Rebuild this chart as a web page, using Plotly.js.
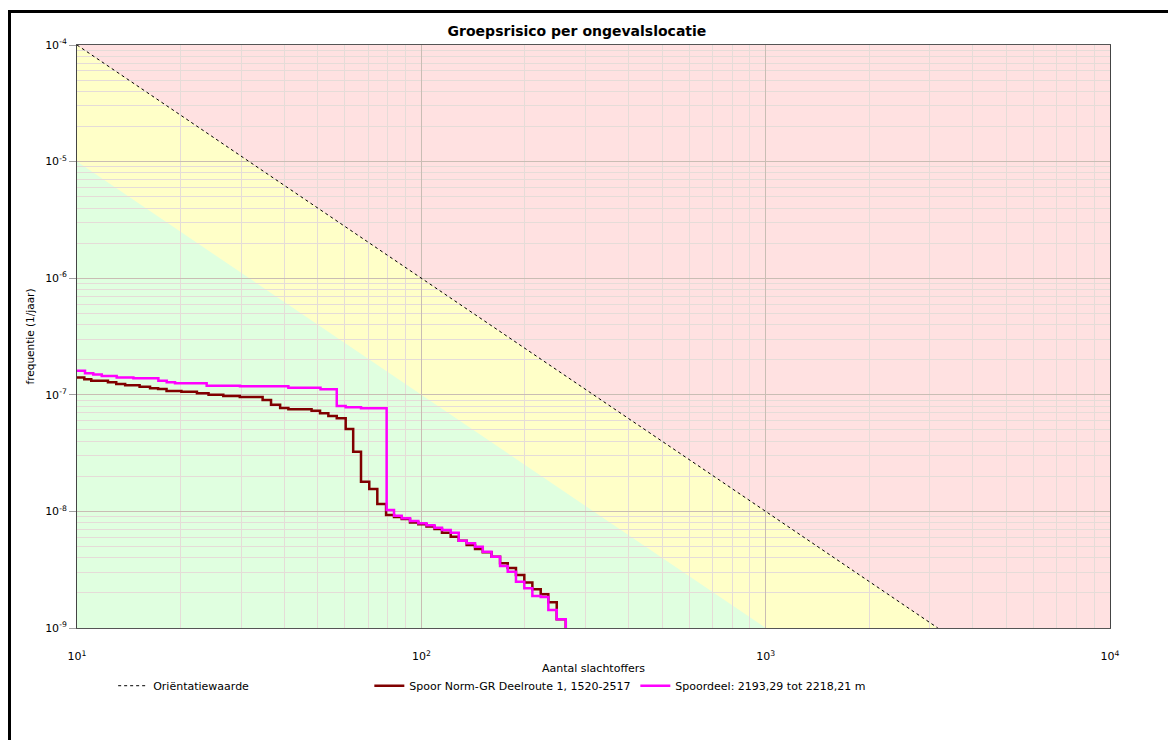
<!DOCTYPE html>
<html>
<head>
<meta charset="utf-8">
<script src="https://cdn.plot.ly/plotly-3.0.1.min.js"></script>
<style>
html,body{margin:0;padding:0;background:#fff;}
#chart{width:1168px;height:740px;position:absolute;left:0;top:0;}
#frame{position:absolute;left:8px;top:10px;width:1200px;height:800px;border-left:3px solid #000;border-top:3px solid #000;pointer-events:none;}
</style>
</head>
<body>
<div id="chart"></div>
<div id="frame"></div>
<script>
// ---- data ----
const chartTitle = 'Groepsrisico per ongevalslocatie';
const xTitle = 'Aantal slachtoffers';
const yTitle = 'frequentie (1/jaar)';

const xTickVals = [10, 100, 1000, 10000];
const xTickText = ['10<sup>1</sup>', '10<sup>2</sup>', '10<sup>3</sup>', '10<sup>4</sup>'];
const yTickVals = [1e-9, 1e-8, 1e-7, 1e-6, 1e-5, 1e-4];
const yTickText = ['10<sup>-9</sup>', '10<sup>-8</sup>', '10<sup>-7</sup>', '10<sup>-6</sup>', '10<sup>-5</sup>', '10<sup>-4</sup>'];

// Oriëntatiewaarde: F = 0.01 / N^2
const orientName = 'Oriëntatiewaarde';
const orientN = [10, 3162.28];
const orientF = [1e-4, 1e-9];

// Zone boundaries (yellow below orientatiewaarde, green below factor 10 lower)
const yellowN = [10, 3162.28, 10];
const yellowF = [1e-4, 1e-9, 1e-9];
const greenN = [10, 1000, 10];
const greenF = [1e-5, 1e-9, 1e-9];

const routeName = 'Spoor Norm-GR Deelroute 1, 1520-2517';
const routeN = [10, 10.5, 11, 12.3, 13, 13.8, 15.2, 16.3, 17.2, 18.2, 20.1, 22.3, 24.1, 26.6, 29.7,
  34.6, 36.6, 38.9, 41.1, 48.0, 50.8, 53.7, 56.8, 60.3, 63.4, 66.8, 70.6, 74.5, 79.0, 83.3,
  87.7, 92.7, 98, 103.5, 109.2, 114.8, 121.7, 128.4, 135.4, 143.2, 150.8, 159.9, 169.3, 178.2,
  188.3, 199.1, 210.1, 222.2, 233.8, 247.3, 262.7];
const routeF = [1.41e-7, 1.36e-7, 1.32e-7, 1.28e-7, 1.24e-7, 1.21e-7, 1.17e-7, 1.14e-7, 1.12e-7, 1.08e-7,
  1.06e-7, 1.03e-7, 1.00e-7, 9.77e-8, 9.57e-8, 9.02e-8, 8.22e-8, 7.71e-8, 7.51e-8, 7.31e-8,
  6.94e-8, 6.58e-8, 6.29e-8, 5.09e-8, 3.25e-8, 1.80e-8, 1.56e-8, 1.16e-8, 9.31e-9, 8.95e-9,
  8.61e-9, 8.03e-9, 7.75e-9, 7.42e-9, 7.07e-9, 6.57e-9, 6.07e-9, 5.61e-9, 5.15e-9, 4.76e-9,
  4.46e-9, 4.09e-9, 3.59e-9, 3.27e-9, 2.85e-9, 2.45e-9, 2.15e-9, 1.95e-9, 1.66e-9, 1.19e-9, 1.0e-9];

const partName = 'Spoordeel: 2193,29 tot 2218,21 m';
const partN = [10, 10.55, 11.15, 11.8, 13.04, 14.58, 17.23, 18.22, 19.26, 23.8, 29.74, 41.1, 50.95,
  56.8, 60.3, 66.8, 79.3, 83.3, 87.7, 92.7, 98.0, 103.5, 109.2, 114.8, 121.7, 128.4, 135.4,
  143.2, 150.8, 159.9, 169.3, 178.2, 188.3, 199.1, 210.1, 222.2, 233.8, 247.3, 262.7];
const partF = [1.61e-7, 1.53e-7, 1.49e-7, 1.45e-7, 1.41e-7, 1.385e-7, 1.32e-7, 1.28e-7, 1.255e-7,
  1.197e-7, 1.183e-7, 1.148e-7, 1.117e-7, 8.01e-8, 7.81e-8, 7.66e-8, 1.028e-8, 9.19e-9, 8.73e-9,
  8.27e-9, 7.90e-9, 7.60e-9, 7.25e-9, 6.93e-9, 6.57e-9, 5.61e-9, 5.33e-9, 4.98e-9, 4.51e-9,
  4.09e-9, 3.40e-9, 3.04e-9, 2.49e-9, 2.19e-9, 1.88e-9, 1.84e-9, 1.43e-9, 1.19e-9, 1.0e-9];

// ---- drawing ----
const FONT = 'DejaVu Sans, Verdana, sans-serif';
function polyPath(xs, ys) {
  return xs.map((x, i) => (i ? 'L' : 'M') + x + ',' + ys[i]).join(' ') + ' Z';
}

const traces = [
  {x: orientN, y: orientF, mode: 'lines', name: orientName, legend: 'legend',
   line: {color: '#000', width: 1, dash: '3px,3px'}},
  {x: routeN, y: routeF, mode: 'lines', name: routeName, legend: 'legend2',
   line: {color: '#800000', width: 2.5, shape: 'hv'}},
  {x: partN, y: partF, mode: 'lines', name: partName, legend: 'legend3',
   line: {color: '#FF00FF', width: 2.5, shape: 'hv'}}
];

const legendBase = {orientation: 'h', yanchor: 'middle', xanchor: 'left', y: -0.099,
  bgcolor: 'rgba(0,0,0,0)', font: {family: FONT, size: 11, color: '#000'}, itemwidth: 30};

const layout = {
  width: 1168, height: 740,
  margin: {l: 77, r: 58, t: 45, b: 112},
  paper_bgcolor: '#fff',
  plot_bgcolor: '#FFE1E1',
  font: {family: FONT, size: 11, color: '#000'},
  title: {text: '<b>' + chartTitle + '</b>', font: {family: FONT, size: 14, color: '#000'},
    xref: 'container', x: 0.494, xanchor: 'center', yref: 'container', y: 1 - 31 / 740, yanchor: 'middle'},
  xaxis: {type: 'log', range: [1, 4], tickmode: 'array', tickvals: xTickVals, ticktext: xTickText,
    ticks: '', ticklabelstandoff: 18, showline: true, linecolor: '#555', linewidth: 1, mirror: true,
    showgrid: true, gridcolor: '#C9BDB4', gridwidth: 1, zeroline: false,
    minor: {dtick: 'D1', showgrid: true, gridcolor: '#E5DCD8', gridwidth: 1, ticks: ''},
    tickfont: {family: FONT, size: 11},
    title: {text: xTitle, font: {family: FONT, size: 11}, standoff: 2}},
  yaxis: {type: 'log', range: [-9, -4], tickmode: 'array', tickvals: yTickVals, ticktext: yTickText,
    ticks: 'outside', ticklen: 7, tickcolor: '#A0A0A0', showline: true, linecolor: '#444', linewidth: 1, mirror: true,
    showgrid: true, gridcolor: '#C9BDB4', gridwidth: 1, zeroline: false,
    minor: {dtick: 'D1', showgrid: true, gridcolor: '#E5DCD8', gridwidth: 1, ticks: ''},
    tickfont: {family: FONT, size: 11},
    title: {text: yTitle, font: {family: FONT, size: 10.5}, standoff: 8}},
  shapes: [
    {type: 'path', xref: 'x', yref: 'y', layer: 'below', path: polyPath(yellowN, yellowF),
     fillcolor: '#FFFFC8', line: {width: 0}},
    {type: 'path', xref: 'x', yref: 'y', layer: 'below', path: polyPath(greenN, greenF),
     fillcolor: '#E0FFE0', line: {width: 0}}
  ],
  legend: Object.assign({}, legendBase, {x: 0.035}),
  legend2: Object.assign({}, legendBase, {x: 0.283}),
  legend3: Object.assign({}, legendBase, {x: 0.5405}),
  showlegend: true
};

Plotly.newPlot('chart', traces, layout, {displayModeBar: false, staticPlot: true});
</script>
</body>
</html>
